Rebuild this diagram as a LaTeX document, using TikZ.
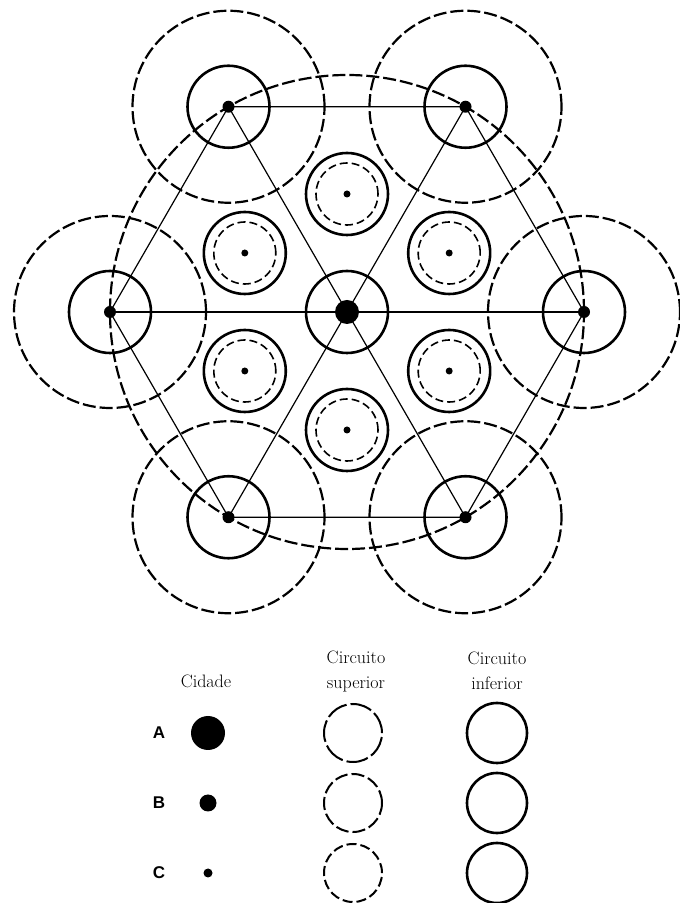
\documentclass[tikz,border=0pt]{standalone}
\usepackage{fontspec}
\newfontfamily\rowfont{Liberation Sans}
\usepackage{tikz}
\usetikzlibrary{calc}

\begin{document}
\begin{tikzpicture}[x=1pt,y=1pt,
    link/.style={line width=1.2pt},
    inferior/.style={line width=2.6pt},
    superior/.style={line width=2.2pt,dash pattern=on 13pt off 4pt},
    minor/.style={line width=1.6pt,dash pattern=on 8pt off 4pt},
    legend/.style={font=\fontsize{18}{25}\selectfont,align=center,inner sep=0pt}]
        \useasboundingbox (0,0) rectangle (680,903);
        \coordinate (A) at (347,591);
        \foreach \i in {0,...,5} {
          \coordinate (B\i) at ($(A)+(\i*60:237)$);
          \coordinate (C\i) at ($(A)+(\i*60+30:118)$);
        }
        \draw[link] (B0) -- (B1) -- (B2) -- (B3) -- (B4) -- (B5) -- cycle;
        \foreach \i/\j in {0/3, 1/4, 2/5}
          \draw[link] (B\i) -- (B\j);
        \draw[superior] (A) circle (237);
        \foreach \i in {0,...,5} {
          \draw[superior] (B\i) circle (96);
          \draw[inferior] (B\i) circle (41);
          \fill (B\i) circle (6);
          \draw[inferior] (C\i) circle (41);
          \draw[minor] (C\i) circle (31);
          \fill (C\i) circle (3.5);
        }
        \draw[inferior] (A) circle (41);
        \fill (A) circle (12);
        \node[legend,anchor=base] (cidade) at (206,215) {Cidade};
        \node[legend] (sup) at (356,232) {Circuito\\superior};
        \node[legend] (inf) at (497,232) {Circuito\\inferior};
        \foreach \r/\y/\d/\p in {A/170/17/22pt, B/100/8.5/13pt, C/30/4.5/10pt} {
          \node[font=\rowfont\bfseries\fontsize{17}{17}\selectfont] (row\r) at (159,\y) {\r};
          \fill (208,\y) circle (\d);
          \draw[line width=2pt,dash pattern=on \p off 4pt] (353,\y) circle (29);
          \draw[inferior] (497,\y) circle (30);
        }
      \end{tikzpicture}
\end{document}
